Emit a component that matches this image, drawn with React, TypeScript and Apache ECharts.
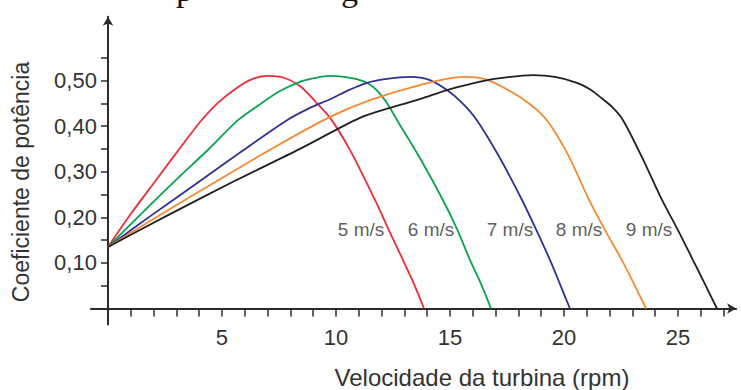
import React, { useEffect, useRef } from "react";
import * as echarts from "echarts";

const windSpeeds = ["5 m/s", "6 m/s", "7 m/s", "8 m/s", "9 m/s"];
const lineColors = ["#ec2d3a", "#0aa34f", "#2e3192", "#f58a32", "#231f20"];

const curve5 = [
  [0, 0.135], [0.965, 0.205], [2.07, 0.279], [3.16, 0.352], [4.04, 0.409], [4.82, 0.451],
  [5.57, 0.481], [6.32, 0.503], [7.02, 0.51], [7.72, 0.506], [8.42, 0.488], [9.04, 0.457],
  [9.74, 0.418], [10.61, 0.348], [11.71, 0.238], [12.32, 0.172], [12.94, 0.106],
  [13.42, 0.054], [13.86, 0],
];
const curve6 = [
  [0, 0.135], [1.4, 0.205], [2.94, 0.28], [4.47, 0.352], [5.7, 0.413], [6.67, 0.448],
  [7.54, 0.477], [8.42, 0.497], [9.04, 0.505], [9.69, 0.51], [10.35, 0.508], [11.05, 0.501],
  [11.58, 0.488], [12.15, 0.457], [12.68, 0.413], [13.68, 0.33], [14.69, 0.238],
  [15.31, 0.174], [15.88, 0.106], [16.36, 0.054], [16.8, 0],
];
const curve7 = [
  [0, 0.135], [1.84, 0.202], [3.82, 0.272], [5.79, 0.342], [7.85, 0.413], [8.86, 0.44],
  [9.74, 0.459], [10.61, 0.48], [11.36, 0.495], [12.15, 0.503], [13.25, 0.508],
  [14.12, 0.501], [14.87, 0.479], [15.53, 0.451], [16.18, 0.413], [17.19, 0.33],
  [18.16, 0.238], [18.77, 0.174], [19.39, 0.106], [19.82, 0.054], [20.26, 0],
];
const curve8 = [
  [0, 0.135], [2.28, 0.205], [4.69, 0.277], [7.11, 0.348], [9.65, 0.418], [11.49, 0.457],
  [13.68, 0.49], [15.57, 0.508], [16.54, 0.503], [17.63, 0.477], [18.51, 0.448],
  [19.25, 0.413], [20.18, 0.337], [21.1, 0.238], [21.8, 0.172], [22.54, 0.106],
  [23.07, 0.054], [23.6, 0],
];
const curve9 = [
  [0, 0.135], [2.72, 0.207], [5.57, 0.28], [8.42, 0.35], [11.05, 0.418], [12.37, 0.44],
  [13.68, 0.459], [14.87, 0.479], [15.88, 0.492], [16.89, 0.503], [18.64, 0.512],
  [19.61, 0.508], [20.57, 0.495], [21.14, 0.481], [21.58, 0.464], [22.11, 0.442],
  [22.59, 0.413], [23.42, 0.332], [24.3, 0.238], [25.0, 0.172], [25.66, 0.106],
  [26.18, 0.054], [26.71, 0],
];
const curves = [curve5, curve6, curve7, curve8, curve9];

// anchor of each speed label, in data units
const labelAnchors = [
  [11.1, 0.174], [14.17, 0.174], [17.63, 0.174], [20.66, 0.174], [23.73, 0.174],
];

const xTickValues = [1, 2, 3, 4, 5, 6, 7, 8, 9, 10, 11, 12, 13, 14, 15, 16, 17, 18, 19, 20, 21, 22, 23, 24, 25, 26, 27];
const xLabelValues = [5, 10, 15, 20, 25];
const yTickValues = [0.05, 0.1, 0.15, 0.2, 0.25, 0.3, 0.35, 0.4, 0.45, 0.5, 0.55];
const yLabelValues = [0.1, 0.2, 0.3, 0.4, 0.5];

const xName = "Velocidade da turbina (rpm)";
const yName = "Coeficiente de potência";

const SANS = '"Liberation Sans", Arial, sans-serif';
const SERIF = '"Liberation Serif", "Times New Roman", serif';
const AXIS = "#2b2b2b";
const TEXT = "#333333";

export default function App() {
  const ref = useRef<HTMLDivElement>(null);

  useEffect(() => {
    if (!ref.current) return;
    const chart = echarts.init(ref.current, null, { renderer: "svg" });
    chart.setOption({
      animation: false,
      backgroundColor: "#ffffff",
      grid: {
        left: 90.9,
        right: 4.9,
        top: 16.66,
        bottom: 65.54,
        containLabel: false,
        outerBoundsMode: "none",
      },
      xAxis: {
        type: "value",
        min: -0.75,
        max: 27.55,
        splitLine: { show: false },
        axisLine: {
          show: true,
          onZero: true,
          symbol: ["none", "arrow"],
          symbolSize: [8, 9],
          lineStyle: { color: AXIS, width: 2 },
        },
        axisTick: {
          show: true,
          customValues: xTickValues,
          length: 8,
          lineStyle: { color: AXIS, width: 1.5 },
        },
        axisLabel: {
          show: true,
          customValues: xLabelValues,
          margin: 2,
          fontSize: 22,
          fontFamily: SANS,
          color: TEXT,
        },
      },
      yAxis: {
        type: "value",
        min: -0.035,
        max: 0.64,
        splitLine: { show: false },
        axisLine: {
          show: true,
          onZero: true,
          symbol: ["none", "arrow"],
          symbolSize: [8, 9],
          lineStyle: { color: AXIS, width: 2 },
        },
        axisTick: {
          show: true,
          customValues: yTickValues,
          length: 7,
          lineStyle: { color: AXIS, width: 1.5 },
        },
        axisLabel: {
          show: true,
          customValues: yLabelValues,
          margin: -6,
          fontSize: 22,
          fontFamily: SANS,
          color: TEXT,
          formatter: (v: number) => v.toFixed(2).replace(".", ","),
        },
      },
      graphic: [
        {
          type: "text",
          x: 482,
          y: 377,
          silent: true,
          style: { text: xName, font: `24px ${SANS}`, fill: TEXT, align: "center", verticalAlign: "middle" },
        },
        {
          type: "text",
          x: 21,
          y: 182,
          rotation: Math.PI / 2,
          silent: true,
          style: { text: yName, font: `23px ${SANS}`, fill: TEXT, align: "center", verticalAlign: "middle" },
        },
        {
          type: "text",
          silent: true,
          style: { text: "p", x: 176, y: -11, font: `34px ${SERIF}`, fill: "#111", align: "left", verticalAlign: "middle" },
        },
        {
          type: "text",
          silent: true,
          style: { text: "g", x: 341, y: -11, font: `34px ${SERIF}`, fill: "#111", align: "left", verticalAlign: "middle" },
        },
      ],
      series: [
        ...curves.map((d, i) => ({
          type: "line",
          name: windSpeeds[i],
          data: d,
          smooth: 0.3,
          showSymbol: false,
          symbol: "none",
          clip: false,
          lineStyle: { color: lineColors[i], width: 1.8 },
          itemStyle: { color: lineColors[i] },
          z: 3,
        })),
        {
          type: "scatter",
          name: "labels",
          silent: true,
          symbolSize: 0,
          data: labelAnchors.map((p, i) => ({ value: p, name: windSpeeds[i] })),
          label: {
            show: true,
            position: "inside",
            formatter: "{b}",
            fontSize: 19,
            fontFamily: SANS,
            color: TEXT,
          },
          z: 5,
        },
      ],
    });
    return () => chart.dispose();
  }, []);

  return (
    <div
      ref={ref}
      style={{ position: "fixed", left: 0, top: 0, width: 741, height: 390, background: "#fff" }}
    />
  );
}
